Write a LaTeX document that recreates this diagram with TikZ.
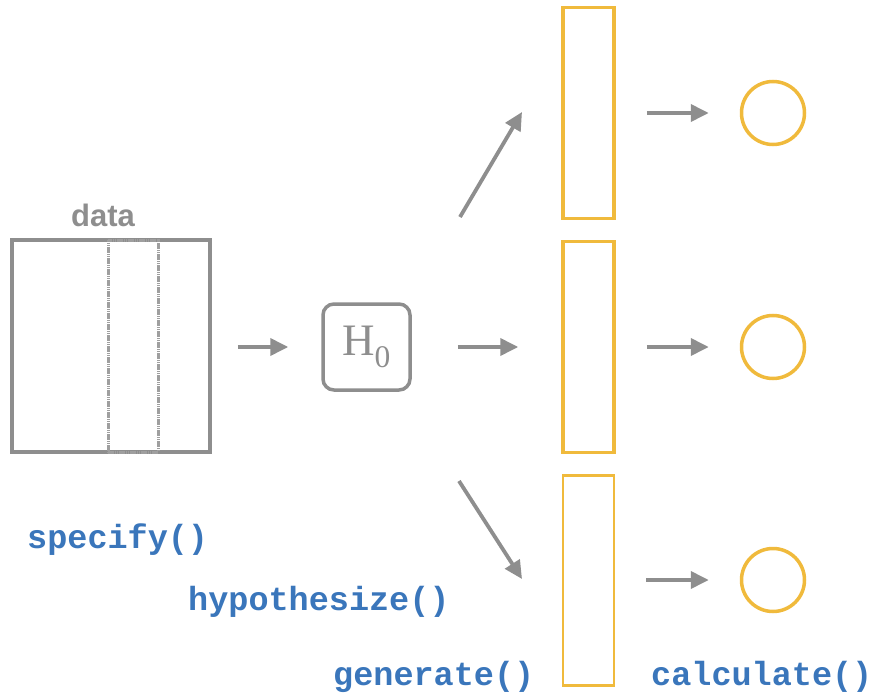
\documentclass[tikz,border=0pt]{standalone}
\usepackage{fontspec}
\setmainfont{Liberation Serif}
\setsansfont{Liberation Sans}
\setmonofont{Liberation Mono}
\usetikzlibrary{arrows.meta}
\definecolor{gr}{HTML}{8E8E8E}
\definecolor{yl}{HTML}{F0BA3C}
\definecolor{bl}{HTML}{3A76BB}
\tikzset{
  conn/.style={draw=gr, line width=3.8pt, -{Triangle[length=18pt,width=17pt]}},
  ybox/.style={draw=yl, line width=3.5pt, minimum width=51pt, minimum height=211pt, inner sep=0pt},
  ycirc/.style={draw=yl, line width=3.5pt, circle, minimum size=63pt, inner sep=0pt},
  fn/.style={text=bl, font=\fontsize{33.5}{33.5}\selectfont\ttfamily\bfseries, inner sep=0pt}
}
\begin{document}
\begin{tikzpicture}[x=1pt,y=-1pt]
\useasboundingbox (0,0) rectangle (871,693);
% data
\node[draw=gr, line width=3.5pt, minimum width=198pt, minimum height=212pt, inner sep=0pt] (data) at (111,346) {};
\node[draw=gr!85, line width=3pt, dash pattern=on 1.6pt off 0.6pt, minimum width=50pt, minimum height=212pt, inner sep=0pt] (col) at (133,346) {};
\node[text=gr, font=\fontsize{31}{31}\selectfont\sffamily\bfseries, inner sep=0pt] (dlab) at (103,215) {data};
% H0
\node[draw=gr, line width=3.5pt, rounded corners=11pt, minimum width=87pt, minimum height=86pt, inner sep=0pt, text=gr, font=\fontsize{45}{45}\selectfont] (h0) at (366.5,347) {H\textsubscript{0}};
% rectangles
\node[ybox] (r1) at (588.5,113) {};
\node[ybox] (r2) at (588.5,347) {};
\node[ybox, line width=2.5pt, minimum height=210pt] (r3) at (588.5,580.5) {};
% circles
\node[ycirc] (c1) at (773,113) {};
\node[ycirc] (c2) at (773,347) {};
\node[ycirc] (c3) at (773,580) {};
% diagonal arrow ends
\coordinate (d1s) at (460,217);
\coordinate (d1e) at (522,112);
\coordinate (d3s) at (459,481);
\coordinate (d3e) at (522,579);
% connectors
\draw[conn, shorten <=26pt, shorten >=33pt] (data.east |- h0.west) -- (h0.west);
\draw[conn, shorten <=46pt, shorten >=43pt] (h0.east) -- (r2.west);
\draw[conn] (d1s) -- (d1e);
\draw[conn] (d3s) -- (d3e);
\draw[conn, shorten <=31pt, shorten >=31pt] (r1.east) -- (c1.west);
\draw[conn, shorten <=31pt, shorten >=31pt] (r2.east) -- (c2.west);
\draw[conn, shorten <=31pt, shorten >=31pt] (r3.east |- c3.west) -- (c3.west);
% labels
\node[fn, anchor=west] (l1) at (27,540) {specify()};
\node[fn, anchor=west] (l2) at (188,602) {hypothesize()};
\node[fn, anchor=west] (l3) at (333,677) {generate()};
\node[fn, anchor=west] (l4) at (651,677) {calculate()};
\end{tikzpicture}
\end{document}
